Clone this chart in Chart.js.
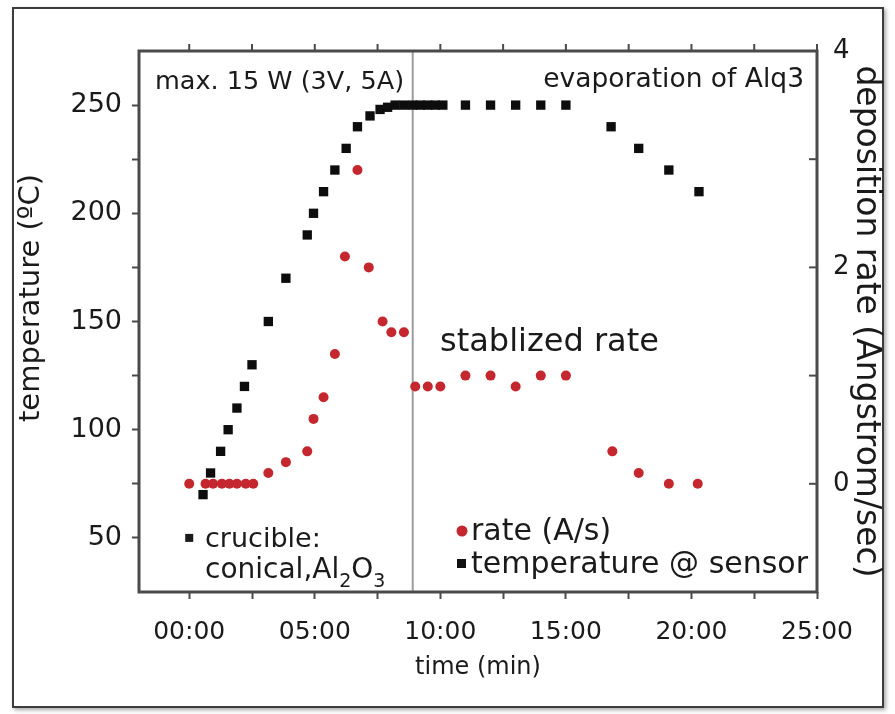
<!DOCTYPE html>
<html><head><meta charset="utf-8">
<script src="https://cdn.jsdelivr.net/npm/chart.js@4"></script>
<style>
html,body{margin:0;padding:0;background:#fff;}
#wrap{position:relative;width:895px;height:714px;overflow:hidden;}
#frame{position:absolute;left:12px;top:7px;width:868px;height:697px;border:2px solid #3c3c3c;box-shadow:2px 2px 4px rgba(0,0,0,0.35);}
canvas{position:absolute;left:0;top:0;}
</style></head><body>
<div id="wrap"><div id="frame"></div><canvas id="c" width="895" height="714"></canvas></div>
<script>
// ---- data (time in minutes) ----
const tempTimes = [0.55, 0.85, 1.25, 1.55, 1.9, 2.2, 2.5, 3.15, 3.85, 4.7, 4.95, 5.35, 5.8, 6.25, 6.7, 7.2, 7.6, 7.9, 8.2, 8.55, 8.9, 9.2, 9.5, 9.8, 10.1, 11, 12, 13, 14, 15, 16.8, 17.9, 19.1, 20.3];
const tempValues = [70, 80, 90, 100, 110, 120, 130, 150, 170, 190, 200, 210, 220, 230, 240, 245, 248, 249, 250, 250, 250, 250, 250, 250, 250, 250, 250, 250, 250, 250, 240, 230, 220, 210];
const rateTimes = [0, 0.65, 0.95, 1.3, 1.6, 1.9, 2.25, 2.55, 3.15, 3.85, 4.7, 4.95, 5.35, 5.8, 6.2, 6.7, 7.15, 7.7, 8.05, 8.55, 9.0, 9.5, 10.0, 11, 12, 13, 14, 15, 16.85, 17.9, 19.1, 20.25];
const rateValues = [0, 0, 0, 0, 0, 0, 0, 0, 0.1, 0.2, 0.3, 0.6, 0.8, 1.2, 2.1, 2.9, 2.0, 1.5, 1.4, 1.4, 0.9, 0.9, 0.9, 1.0, 1.0, 0.9, 1.0, 1.0, 0.3, 0.1, 0, 0];
const xTickValues = [0, 2.5, 5, 7.5, 10, 12.5, 15, 17.5, 20, 22.5, 25];
const tempTickValues = [50, 75, 100, 125, 150, 175, 200, 225, 250];
const rateTickValues = [0, 1, 2, 3, 4];
const stabilizedAt = 8.9;          // vertical marker (min)
const crucibleMark = {x: 0, y: 50}; // bullet of the crucible note

const FONT = "'DejaVu Sans'";
const AXIS = '#4a4a4a';
const RED = '#c4272d';
const INK = '#1a1a1a';

function fmtTime(v){ return String(Math.round(v)).padStart(2,'0') + ':00'; }

const decor = {
  id: 'decor',
  beforeDatasetsDraw(chart){
    const {ctx, chartArea: a, scales: {x}} = chart;
    const px = x.getPixelForValue(stabilizedAt);
    ctx.save();
    ctx.strokeStyle = '#9c9c9c'; ctx.lineWidth = 2;
    ctx.beginPath(); ctx.moveTo(px, a.top); ctx.lineTo(px, a.bottom); ctx.stroke();
    ctx.restore();
  },
  afterDraw(chart){
    const {ctx, chartArea: a, scales: {x, y, y2}} = chart;
    ctx.save();
    // frame of plot
    ctx.strokeStyle = AXIS; ctx.lineWidth = 3;
    ctx.strokeRect(a.left, a.top, a.right - a.left, a.bottom - a.top);
    // top ticks (outward)
    ctx.lineWidth = 2;
    xTickValues.forEach(v => { const p = x.getPixelForValue(v); ctx.beginPath(); ctx.moveTo(p, a.top); ctx.lineTo(p, a.top - 7); ctx.stroke(); });
    // right ticks (inward)
    rateTickValues.forEach(v => { const p = y2.getPixelForValue(v); ctx.beginPath(); ctx.moveTo(a.right, p); ctx.lineTo(a.right - 8, p); ctx.stroke(); });

    // left axis title
    ctx.fillStyle = INK;
    ctx.save();
    ctx.translate(31, 298); ctx.rotate(-Math.PI / 2);
    ctx.font = '29px ' + FONT; ctx.textAlign = 'center'; ctx.textBaseline = 'middle';
    ctx.fillText('temperature (ºC)', 0, 0);
    ctx.restore();

    ctx.textBaseline = 'alphabetic';
    ctx.font = '25.5px ' + FONT; ctx.textAlign = 'left';
    ctx.fillText('max. 15 W (3V, 5A)', 155, 89);
    ctx.font = '26.5px ' + FONT; ctx.textAlign = 'right';
    ctx.fillText('evaporation of Alq3', 804, 87);
    ctx.font = '32px ' + FONT; ctx.textAlign = 'left';
    ctx.fillText('stablized rate', 440, 351);

    // crucible note
    const bx = x.getPixelForValue(crucibleMark.x), by = y.getPixelForValue(crucibleMark.y);
    ctx.fillRect(bx - 4, by - 4, 8, 8);
    ctx.font = '27px ' + FONT;
    ctx.fillText('crucible:', 205, 547);
    let cx = 205;
    const parts = [['conical,Al', 0], ['2', 1], ['O', 0], ['3', 1]];
    parts.forEach(([t, sub]) => {
      if (sub) { ctx.font = '19px ' + FONT; ctx.fillText(t, cx, 587); }
      else { ctx.font = '28px ' + FONT; ctx.fillText(t, cx, 578); }
      cx += ctx.measureText(t).width;
    });

    // legend
    ctx.fillStyle = RED;
    ctx.beginPath(); ctx.arc(462, 531, 5.5, 0, Math.PI * 2); ctx.fill();
    ctx.fillStyle = '#111';
    ctx.fillRect(457, 559, 9, 9);
    ctx.fillStyle = INK;
    ctx.font = '30px ' + FONT;
    ctx.fillText('rate (A/s)', 471, 540);
    ctx.fillText('temperature @ sensor', 471, 573);
    ctx.restore();
  }
};

new Chart(document.getElementById('c'), {
  type: 'scatter',
  data: {
    datasets: [
      { label: 'rate (A/s)', yAxisID: 'y2', data: rateTimes.map((t, i) => ({x: t, y: rateValues[i]})),
        pointStyle: 'circle', pointRadius: 5, pointBackgroundColor: RED, pointBorderWidth: 0, showLine: false },
      { label: 'temperature @ sensor', yAxisID: 'y', data: tempTimes.map((t, i) => ({x: t, y: tempValues[i]})),
        pointStyle: 'rect', pointRadius: 6.6, pointBackgroundColor: '#0d0d0d', pointBorderWidth: 0, showLine: false }
    ]
  },
  options: {
    responsive: false, animation: false,
    layout: { padding: { top: 51, left: 0, right: 0, bottom: 0 } },
    plugins: { legend: { display: false }, tooltip: { enabled: false } },
    scales: {
      x: {
        type: 'linear', position: 'bottom', min: -2, max: 25,
        afterBuildTicks: s => { s.ticks = xTickValues.map(v => ({value: v})); },
        afterFit: s => { s.height = 122; },
        border: { display: false },
        grid: { drawOnChartArea: false, tickLength: 7, tickWidth: 2, tickColor: AXIS },
        ticks: { autoSkip: false, maxRotation: 0, padding: 18, color: INK, font: { family: FONT, size: 25 },
          callback: v => (v % 5 === 0 ? fmtTime(v) : '') },
        title: { display: true, text: 'time (min)', color: INK, font: { family: FONT, size: 24 }, padding: { top: 0, bottom: 32 } }
      },
      y: {
        position: 'left', min: 25, max: 275,
        afterBuildTicks: s => { s.ticks = tempTickValues.map(v => ({value: v})); },
        afterFit: s => { s.width = 139; },
        border: { display: false },
        grid: { drawOnChartArea: false, tickLength: 7, tickWidth: 2, tickColor: AXIS },
        ticks: { padding: 10, color: INK, font: { family: FONT, size: 27 },
          callback: v => (v % 50 === 0 ? String(v) : '') },
        title: { display: false, text: 'temperature (ºC)' }
      },
      y2: {
        position: 'right', min: -1, max: 4,
        afterBuildTicks: s => { s.ticks = rateTickValues.map(v => ({value: v})); },
        afterFit: s => { s.width = 78; },
        border: { display: false },
        grid: { drawOnChartArea: false, drawTicks: false },
        ticks: { padding: 16, color: INK, font: { family: FONT, size: 26 },
          callback: v => (v % 2 === 0 ? String(v) : '') },
        title: { display: true, text: 'deposition rate (Angstrom/sec)', color: INK, font: { family: FONT, size: 33 }, padding: { top: 10 } }
      }
    }
  },
  plugins: [decor]
});
</script>
</body></html>
